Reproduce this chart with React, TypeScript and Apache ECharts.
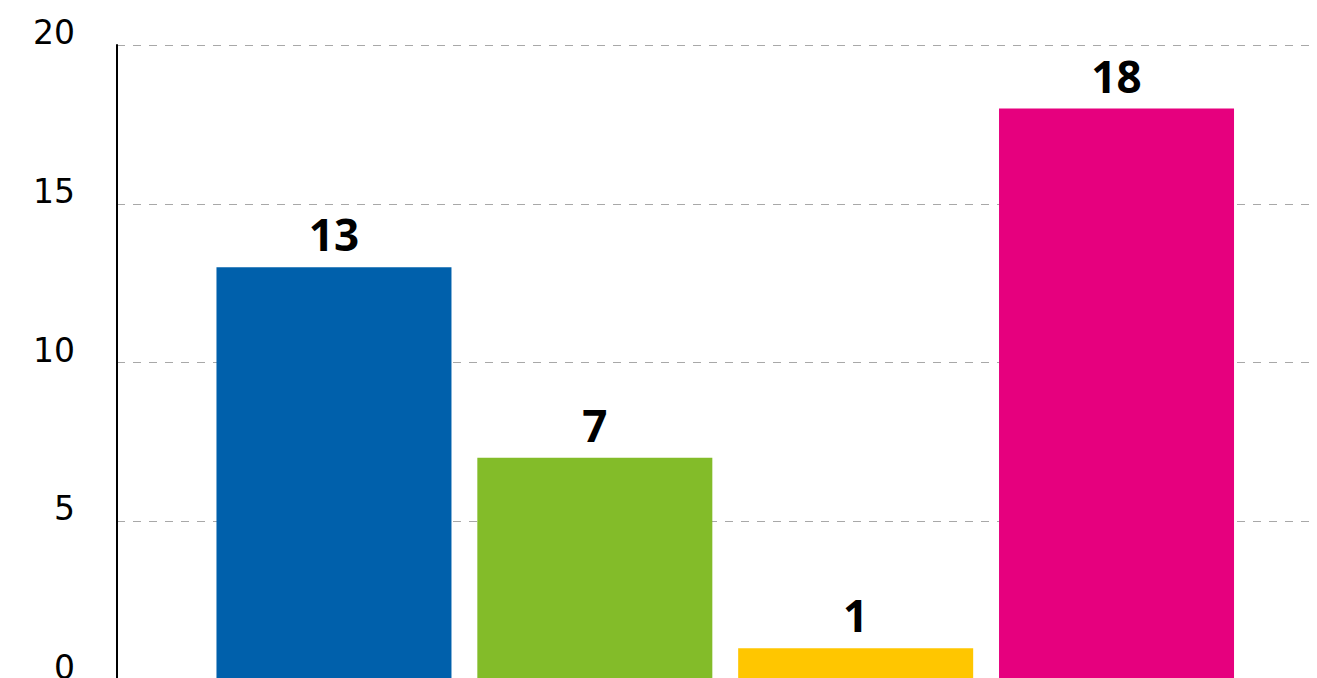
import React, { useEffect, useRef } from "react";
import * as echarts from "echarts";

const categories = [""];
const seriesNames = ["Blau", "Grün", "Gelb", "Magenta"];
const seriesValues = [13, 7, 1, 18];
const seriesColors = ["#0060AB", "#83BC29", "#FFC600", "#E6007E"];
const yTicks = { min: 0, max: 20, interval: 5 };

export default function App() {
  const ref = useRef<HTMLDivElement>(null);
  useEffect(() => {
    if (!ref.current) return;
    document.body.style.overflow = "hidden";
    const chart = echarts.init(ref.current, undefined, { renderer: "svg" });
    chart.setOption({
      animation: false,
      grid: { left: 117, top: 45, height: 635, width: 1216.5, containLabel: false },
      xAxis: {
        type: "category",
        data: categories,
        axisLine: { show: false },
        axisTick: { show: false },
        axisLabel: { show: false },
      },
      yAxis: {
        type: "value",
        min: yTicks.min,
        max: yTicks.max,
        interval: yTicks.interval,
        axisLine: { show: true, lineStyle: { color: "#000", width: 2 } },
        axisTick: { show: false },
        axisLabel: {
          color: "#000",
          fontFamily: "DejaVu Sans",
          fontSize: 33,
          margin: 42,
          verticalAlign: "bottom",
          padding: [0, 0, -4, 0],
        },
        splitLine: {
          show: true,
          lineStyle: { color: "#a8a8a8", width: 1, type: [8, 8] },
        },
      },
      series: seriesNames.map((name, i) => ({
        name,
        type: "bar",
        data: [seriesValues[i]],
        barWidth: 235,
        barGap: "11%",
        itemStyle: { color: seriesColors[i] },
        label: {
          show: true,
          position: "top",
          distance: 11,
          color: "#000",
          fontFamily: "Noto Sans",
          fontWeight: "bold",
          fontSize: 44,
        },
      })),
    });
    return () => chart.dispose();
  }, []);
  return (
    <div
      ref={ref}
      style={{ position: "fixed", left: 0, top: 0, width: 1340, height: 700, background: "#fff" }}
    />
  );
}
